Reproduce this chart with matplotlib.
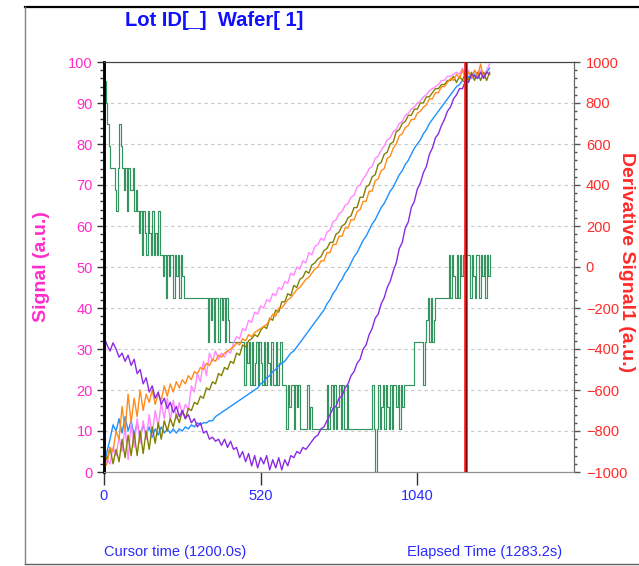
import numpy as np
import matplotlib
matplotlib.use("Agg")
import matplotlib.pyplot as plt
from matplotlib.lines import Line2D
from matplotlib.ticker import MultipleLocator

plt.rcParams["font.family"] = ["Liberation Sans", "DejaVu Sans"]

# ---------------------------------------------------------------------------
# Data read off the reference (signal traces sampled every 10 s,
# derivative trace every 5 s)
# ---------------------------------------------------------------------------
TIME = np.arange(0, 1290, 10)
DERIV_TIME = np.arange(0, 1285, 5)

SIG_PINK = [
    1, 3, 2, 6, 4, 8.5, 5, 11, 3, 12,
    6, 13, 7, 12.5, 8, 14, 9, 15, 11, 17,
    13, 18, 12.5, 17.5, 13, 17, 14, 16.5, 15, 21,
    19.5, 24, 22, 27, 23.5, 29, 27, 29.5, 27.5, 29,
    28, 29.5, 29, 31.5, 33, 32.5, 35, 34.5, 37, 36.5,
    39, 38.5, 40.5, 40, 42, 41.5, 43.5, 43, 45, 44.5,
    46.5, 46, 48.5, 48, 50, 49.5, 51.5, 51, 53.5, 53,
    55, 55.5, 57, 56.5, 58.5, 59, 61, 61.5, 63, 63.5,
    65, 65.5, 67, 67.5, 69.5, 70, 71.5, 72.5, 74, 74.5,
    76.5, 77, 78.5, 79.5, 81, 81.5, 83, 83.5, 85, 85.5,
    87, 87.5, 88.5, 89, 90, 90.5, 91.5, 92, 93, 93.5,
    94, 94.5, 95.5, 95.5, 96.5, 96.5, 97, 97.5, 97, 98.5,
    96.5, 98, 96, 98, 97, 98, 96.5, 98, 99.5,
]
SIG_OLIVE = [
    5, 3, 6, 2, 5.5, 2.5, 8, 3.5, 9, 4,
    9.5, 4, 10, 4.5, 10, 5.5, 11, 7, 12, 8,
    12.5, 10, 13, 11, 14, 12, 15, 13, 15.5, 15,
    17, 16.5, 18.5, 18, 20.5, 20, 22, 21.5, 24, 23.5,
    25.5, 25, 27, 26.5, 29, 28.5, 31, 30.5, 32, 32.5,
    33.5, 33, 34.5, 35.5, 35, 37.5, 37, 39.5, 39, 41.5,
    41.5, 43.5, 43, 45.5, 45, 47, 47.5, 49, 48.5, 50.5,
    51, 52, 52.5, 54, 54.5, 56, 56, 58, 58.5, 60,
    60.5, 62, 62.5, 64.5, 64.5, 67, 67, 69.5, 70, 72,
    72.5, 75, 75.5, 77.5, 78, 80, 80.5, 83, 83.5, 85,
    85.5, 87, 87, 88.5, 88.5, 90, 90, 91.5, 91.5, 92.5,
    93.5, 93.5, 94.5, 94.5, 95.5, 95.5, 96.5, 95, 96.5, 95.5,
    97.5, 95.5, 97.5, 95.5, 97.5, 95.5, 97.5, 95.5, 97.5,
]
SIG_ORANGE = [
    1, 2, 6, 5, 10, 8, 16, 10, 19, 12,
    18, 13.5, 20, 15, 19, 17, 20, 16.5, 19, 17.5,
    21, 18.5, 21.5, 19.5, 22, 20.5, 22.5, 21.5, 23.5, 22.5,
    24.5, 24, 25.5, 25, 26.5, 26, 27.5, 27, 28.5, 28,
    29, 29.5, 30, 30.5, 31.5, 31, 32.5, 32, 33.5, 33,
    34, 34.5, 35, 35.5, 36, 37, 38.5, 38, 40, 40,
    41, 42, 42.5, 43.5, 44.5, 45, 46, 47, 47.5, 48.5,
    49.5, 50, 51.5, 51.5, 53.5, 53.5, 55.5, 55.5, 57.5, 57.5,
    59.5, 59.5, 61.5, 61.5, 63.5, 64, 66, 66, 68.5, 68.5,
    71, 71.5, 73.5, 74, 76.5, 77, 79, 80, 82, 82.5,
    84, 84.5, 86, 86, 87.5, 88, 89, 89.5, 91, 91,
    92.5, 92.5, 94, 94, 95, 96, 95.5, 97, 96, 98,
    96, 97.5, 96, 98, 96.5, 99.5, 96, 97.5, 97,
]
SIG_BLUE = [
    2, 5, 8, 11.5, 10, 13, 9.5, 13.5, 10, 12.5,
    9, 12, 8.5, 11.5, 9, 11, 8.5, 10.5, 9, 11,
    9.5, 10.5, 9.5, 10.5, 9.5, 10.5, 10, 11, 10.5, 11.5,
    11, 12, 11.5, 12, 12, 12.5, 12.5, 13.5, 14, 14.5,
    15, 15.5, 16, 16.5, 17, 17.5, 18, 18.5, 19, 19.5,
    20, 20.5, 21.5, 22, 23, 23.5, 24.5, 25, 26, 26.5,
    27, 28, 29, 29.5, 30.5, 31.5, 32.5, 33.5, 34.5, 35.5,
    36.5, 37.5, 38.5, 39.5, 41, 42, 43.5, 44.5, 46, 47,
    48.5, 49.5, 51, 52.5, 53.5, 55, 56.5, 57.5, 59, 60.5,
    61.5, 63, 64.5, 65.5, 67, 68.5, 69.5, 71, 72.5, 73.5,
    75, 76, 77.5, 79, 80, 81, 82.5, 83.5, 85, 86,
    87, 88, 89, 90, 91, 92, 93, 94, 94.5, 95.5,
    95, 96.5, 96, 97, 96, 97.5, 96.5, 97.5, 98.5,
]
SIG_PURPLE = [
    33, 31, 29.5, 31.5, 30, 28, 29, 27, 28.5, 26,
    27.5, 24, 25, 21.5, 23, 19.5, 21, 18, 19.5, 16.5,
    18, 15.5, 17, 14.5, 16, 13.5, 15, 13, 14, 12,
    13, 11, 12, 9.5, 10, 8, 8.5, 7.5, 8, 6.5,
    8, 6, 7.5, 5.5, 6, 3.5, 5, 2.5, 4.5, 1.5,
    4, 1, 3.5, 2, 4, 0.5, 3, 1, 3.5, 0.5,
    3, 1.5, 4, 3.5, 5, 4.5, 6, 5.5, 6.5, 7.5,
    8.5, 9, 10.5, 11, 12.5, 14, 15.5, 16, 18, 18.5,
    20.5, 21.5, 23.5, 24.5, 26.5, 27.5, 30, 31, 33.5, 35,
    37.5, 38.5, 41, 42.5, 45, 46.5, 49, 51, 54.5, 56,
    59.5, 61, 64.5, 66, 69, 70.5, 73, 74.5, 77.5, 79,
    81.5, 82.5, 84.5, 86, 88, 89, 91, 92, 93.5, 93.5,
    95.5, 95, 97, 96.5, 96, 97.5, 96, 97.5, 97,
]
DERIV_GREEN = [
    908, 802, 696, 590, 484, 484, 484, 378, 272, 484, 696, 590, 484, 378, 484, 272, 484, 378, 378, 484,
    272, 378, 272, 166, 272, 60, 272, 166, 60, 272, 166, 60, 272, 60, 166, 60, 272, 60, 60, -46,
    60, -152, 60, -46, 60, 60, -152, 60, -46, 60, -152, 60, -46, -152, -152, -152, -152, -152, -152, -152,
    -152, -152, -152, -152, -152, -152, -152, -152, -152, -364, -152, -258, -152, -364, -152, -152, -364, -152, -258, -152,
    -364, -152, -258, -364, -364, -364, -364, -364, -364, -364, -364, -364, -364, -576, -364, -470, -364, -576, -364, -576,
    -470, -364, -576, -364, -470, -576, -364, -576, -364, -470, -576, -364, -576, -576, -364, -576, -470, -364, -576, -576,
    -576, -788, -576, -682, -576, -576, -788, -576, -682, -576, -788, -788, -788, -788, -788, -576, -788, -682, -788, -788,
    -788, -788, -788, -788, -788, -788, -788, -788, -576, -788, -682, -576, -788, -576, -788, -682, -576, -788, -576, -788,
    -788, -576, -788, -788, -788, -788, -788, -788, -788, -788, -788, -788, -788, -788, -788, -788, -788, -788, -576, -788,
    -1000, -788, -576, -788, -682, -576, -788, -576, -682, -788, -576, -788, -576, -576, -682, -576, -788, -576, -682, -576,
    -576, -576, -576, -576, -576, -576, -364, -364, -364, -364, -364, -364, -576, -364, -258, -152, -364, -152, -364, -258,
    -152, -152, -152, -152, -152, -152, -152, -152, -152, 60, -152, 60, -46, -152, 60, -152, 60, -46, 60, 60,
    60, 60, 60, -152, 60, -46, -152, 60, 60, -152, 60, -46, 60, -152, 60, -46, 60,
]

CURSOR_TIME = 1200.0
ELAPSED_TIME = 1283.2
X_TICKS = [0, 520, 1040]
TITLE = "Lot ID[_]  Wafer[ 1]"

MAGENTA = "#ff2ccb"
RED = "#ff2a2a"
BLUE = "#2a2aff"

# ---------------------------------------------------------------------------
# Figure
# ---------------------------------------------------------------------------
W, H = 639, 566
fig = plt.figure(figsize=(W / 100, H / 100), dpi=100)

ax = fig.add_axes([104 / W, 1 - 472 / H, 470 / W, 410 / H])
ax2 = ax.twinx()
ax.set_zorder(ax2.get_zorder() + 1)
ax.patch.set_visible(False)

# derivative trace on the right axis, drawn underneath
ax2.plot(DERIV_TIME, DERIV_GREEN, drawstyle="steps-post",
         color="#33945f", lw=0.85)

for series, color in [
    (SIG_BLUE, "#1e90ff"),
    (SIG_PINK, "#ff88ff"),
    (SIG_OLIVE, "#808000"),
    (SIG_ORANGE, "#ff8c1a"),
    (SIG_PURPLE, "#8a2be2"),
]:
    ax.plot(TIME, series, color=color, lw=1.0)

ax.axvline(CURSOR_TIME, color="#ff1010", lw=2.6, zorder=10)
ax.axvline(CURSOR_TIME, color="#7a0000", lw=0.7, zorder=11)

ax.set_xlim(0, 1560)
ax.set_ylim(0, 100)
ax2.set_ylim(-1000, 1000)

ax.set_xticks(X_TICKS)
ax.yaxis.set_major_locator(MultipleLocator(10))
ax.yaxis.set_minor_locator(MultipleLocator(2))
ax2.yaxis.set_major_locator(MultipleLocator(200))
ax2.yaxis.set_minor_locator(MultipleLocator(40))

ax2.grid(True, which="major", color="#c8c8c8", ls=(0, (3, 3)), lw=0.8)
ax2.set_xticks(X_TICKS)

ax.tick_params(axis="x", direction="out", length=9, width=1, color="#333333",
               labelcolor=BLUE, labelsize=10.5, pad=3)
ax.tick_params(axis="y", which="major", direction="out", length=5, width=1,
               color="#333333", labelcolor=MAGENTA, labelsize=10.5, pad=3)
ax.tick_params(axis="y", which="minor", direction="out", length=3, width=1,
               color="#333333")
ax2.tick_params(axis="y", which="major", direction="out", length=4.5, width=1,
                color="#555555", labelcolor=RED, labelsize=10.5, pad=4)
ax2.tick_params(axis="y", which="minor", direction="out", length=2.5, width=1,
                color="#555555")
ax2.tick_params(axis="x", bottom=False, labelbottom=False)

for a in (ax, ax2):
    a.spines["left"].set_color("#000000")
    a.spines["left"].set_linewidth(1.8)
    a.spines["bottom"].set_color("#909090")
    a.spines["top"].set_color("#444444")
    a.spines["right"].set_color("#666666")

# titles and labels
fig.text(125 / W, 1 - 20 / H, TITLE, ha="left", va="center",
         fontsize=14.5, fontweight="bold", color="#1010ff")
fig.text(41 / W, 1 - 267 / H, "Signal (a.u.)", rotation=90, ha="center",
         va="center", fontsize=14, fontweight="bold", color=MAGENTA)
fig.text(627 / W, 1 - 262 / H, "Derivative Signal1 (a.u.)", rotation=270,
         ha="center", va="center", fontsize=14, fontweight="bold", color=RED)
fig.text(104 / W, 1 - 552 / H, f"Cursor time ({CURSOR_TIME:.1f}s)",
         ha="left", va="center", fontsize=10.5, color=BLUE)
fig.text(407 / W, 1 - 552 / H, f"Elapsed Time ({ELAPSED_TIME:.1f}s)",
         ha="left", va="center", fontsize=10.5, color=BLUE)

# outer panel frame
x0, y_top, y_bot = 25 / W, 1 - 6.5 / H, 1 - 564 / H
fig.add_artist(Line2D([x0, 1.0], [y_top, y_top], color="#000000", lw=1.6))
fig.add_artist(Line2D([x0, x0], [y_bot, y_top], color="#808080", lw=1.0))
fig.add_artist(Line2D([x0, 1.0], [y_bot, y_bot], color="#606060", lw=1.0))

fig.savefig("out.png", dpi=100)
